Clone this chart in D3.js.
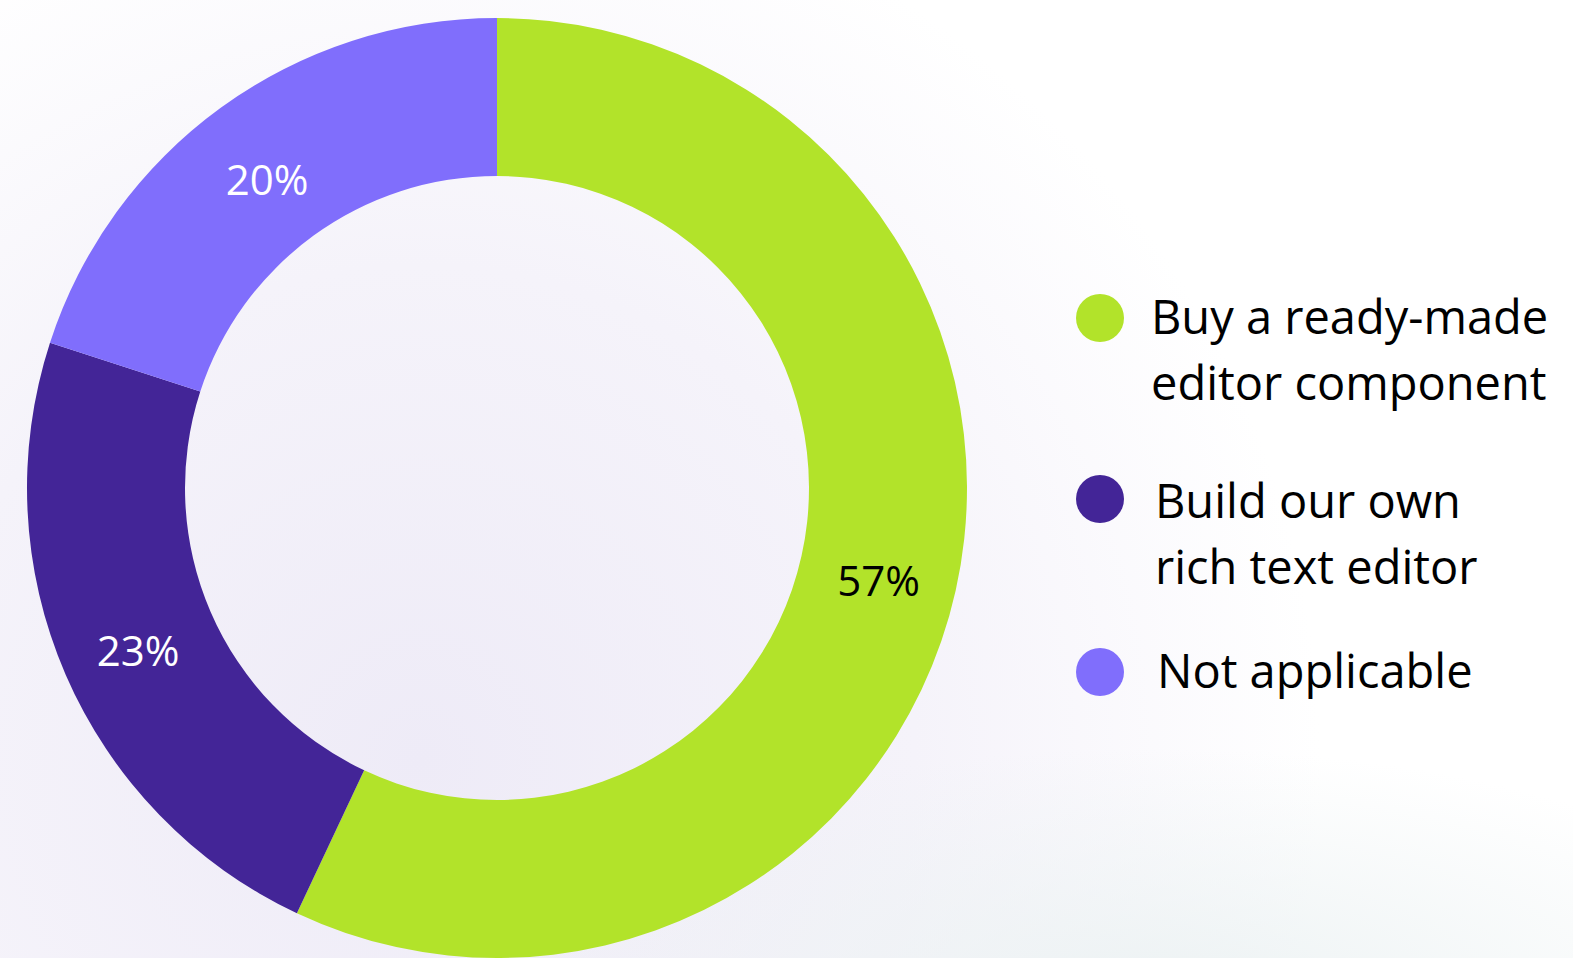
<!DOCTYPE html>
<html>
<head>
<meta charset="utf-8">
<script src="https://cdn.jsdelivr.net/npm/d3@7"></script>
<style>
  html, body { margin: 0; padding: 0; background: #ffffff; }
  svg { display: block; }
</style>
</head>
<body>
<svg id="chart" width="1573" height="958"></svg>
<script>
// Survey answers: how teams get a rich text editor
const categories = ["Buy a ready-made editor component", "Build our own rich text editor", "Not applicable"];
const legendLines = [["Buy a ready-made", "editor component"], ["Build our own", "rich text editor"], ["Not applicable"]];
const shares = [57, 23, 20];
const colors = ["#b2e32a", "#432597", "#806efc"];
const labelColors = ["#000000", "#ffffff", "#ffffff"];

const W = 1573, H = 958;
const svg = d3.select("#chart");

// soft background wash
const defs = svg.append("defs");
const g1 = defs.append("radialGradient").attr("id", "wash1")
  .attr("gradientUnits", "userSpaceOnUse")
  .attr("cx", 420).attr("cy", 760).attr("r", 900);
g1.append("stop").attr("offset", "0").attr("stop-color", "#eeebf7");
g1.append("stop").attr("offset", "0.55").attr("stop-color", "#f5f3fa");
g1.append("stop").attr("offset", "1").attr("stop-color", "#ffffff");
const g2 = defs.append("radialGradient").attr("id", "wash2")
  .attr("gradientUnits", "userSpaceOnUse")
  .attr("cx", 1150).attr("cy", 1000).attr("r", 420)
  .attr("gradientTransform", "translate(1150 1000) scale(1.6 0.6) translate(-1150 -1000)");
g2.append("stop").attr("offset", "0").attr("stop-color", "#ecf2f3").attr("stop-opacity", 1);
g2.append("stop").attr("offset", "1").attr("stop-color", "#ecf2f3").attr("stop-opacity", 0);

svg.append("rect").attr("width", W).attr("height", H).attr("fill", "url(#wash1)");
svg.append("rect").attr("width", W).attr("height", H).attr("fill", "url(#wash2)");

// donut
const cx = 497, cy = 488, outerR = 470, innerR = 312;
const pie = d3.pie().sort(null).value(d => d);
const arcs = pie(shares);
const arc = d3.arc().innerRadius(innerR).outerRadius(outerR);

const donut = svg.append("g").attr("transform", `translate(${cx},${cy})`);
donut.selectAll("path.slice")
  .data(arcs)
  .join("path")
  .attr("class", "slice")
  .attr("d", arc)
  .attr("fill", (d, i) => colors[i]);

donut.selectAll("text.pct")
  .data(arcs)
  .join("text")
  .attr("class", "pct")
  .attr("transform", d => {
    const [x, y] = arc.centroid(d);
    return `translate(${x},${y + 8})`;
  })
  .attr("text-anchor", "middle")
  .attr("dy", "0.36em")
  .attr("font-family", "'Open Sans', 'Noto Sans', sans-serif")
  .attr("font-size", 42)
  .attr("fill", (d, i) => labelColors[i])
  .text(d => d.data + "%");

// legend
const legendFont = "'Open Sans', 'Noto Sans', sans-serif";
const markerY = [318, 499, 672];
const textX = [1151, 1155, 1157];
const firstBaseline = [334, 518, 688];
const legend = svg.append("g");
const items = legend.selectAll("g.item")
  .data(categories)
  .join("g")
  .attr("class", "item");
items.append("circle")
  .attr("cx", 1100)
  .attr("cy", (d, i) => markerY[i])
  .attr("r", 24)
  .attr("fill", (d, i) => colors[i]);
items.each(function (d, i) {
  const t = d3.select(this).append("text")
    .attr("font-family", legendFont)
    .attr("font-size", 47)
    .attr("fill", "#000000");
  legendLines[i].forEach((ln, k) => {
    t.append("tspan")
      .attr("x", textX[i])
      .attr("y", firstBaseline[i] + k * 66)
      .text(ln);
  });
});
</script>
</body>
</html>
